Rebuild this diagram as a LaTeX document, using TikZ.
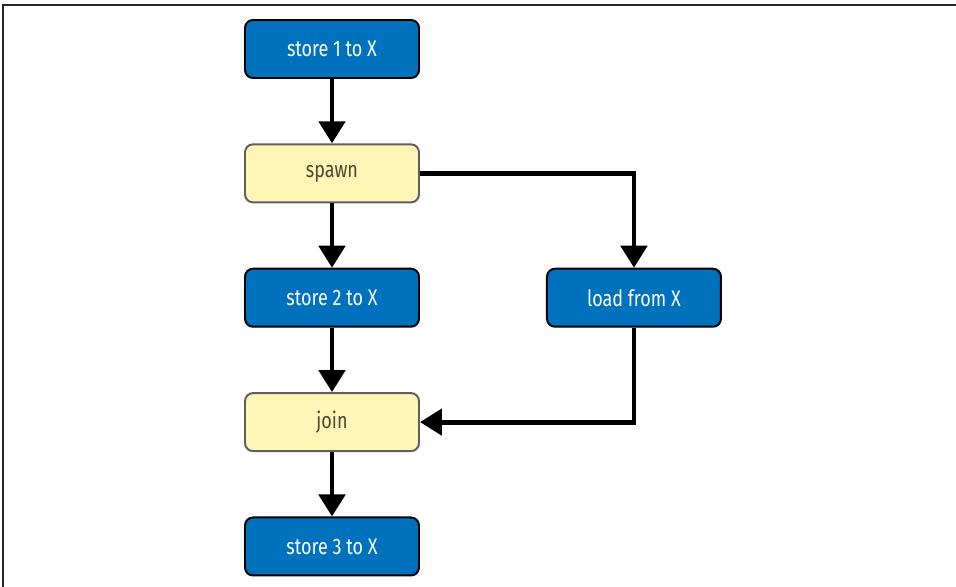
\documentclass[tikz,border=0pt]{standalone}
\usepackage{fontspec}
\setmainfont{Fira Sans}[FakeStretch=0.8]
\usepackage{tikz}
\usetikzlibrary{positioning, arrows.meta}
\definecolor{opblue}{RGB}{0,113,188}
\definecolor{syncyellow}{RGB}{255,245,183}
\definecolor{syncgray}{RGB}{95,95,95}
\definecolor{synctext}{RGB}{75,72,50}
\tikzset{
    op/.style={draw=black, line width=1.4pt, fill=opblue, text=white, rounded corners=0.2cm, minimum width=4.35cm, minimum height=1.45cm, inner sep=0pt, font=\fontsize{16}{18}\selectfont},
    sync/.style={op, draw=syncgray, fill=syncyellow, text=synctext},
    flow/.style={line width=3.5pt, -{Triangle[length=0.55cm,width=0.65cm]}}
}

\begin{document}
\begin{tikzpicture}
    	\useasboundingbox (0,0) rectangle (23.9,14.675);
    	\draw[line width=1.1pt, black!85] (0.075,0) -- (0.075,14.55) -- (23.9,14.55);

    	\node[op] (store1) at (8.3,13.45) {store 1 to X};
    	\node[sync, below=1.61cm of store1] (spawn) {spawn};
    	\node[op, below=1.61cm of spawn] (store2) {store 2 to X};
    	\node[op, right=3.15cm of store2] (load) {load from X};
    	\node[sync, below=1.61cm of store2] (join) {join};
    	\node[op, below=1.61cm of join] (store3) {store 3 to X};

    	\draw[flow] (store1) -- (spawn);
    	\draw[flow] (spawn) -- (store2);
    	\draw[flow] (store2) -- (join);
    	\draw[flow] (join) -- (store3);
    	\draw[flow] (spawn.east) -| (load.north);
    	\draw[flow] (load.south) |- (join.east);
\end{tikzpicture}
\end{document}
